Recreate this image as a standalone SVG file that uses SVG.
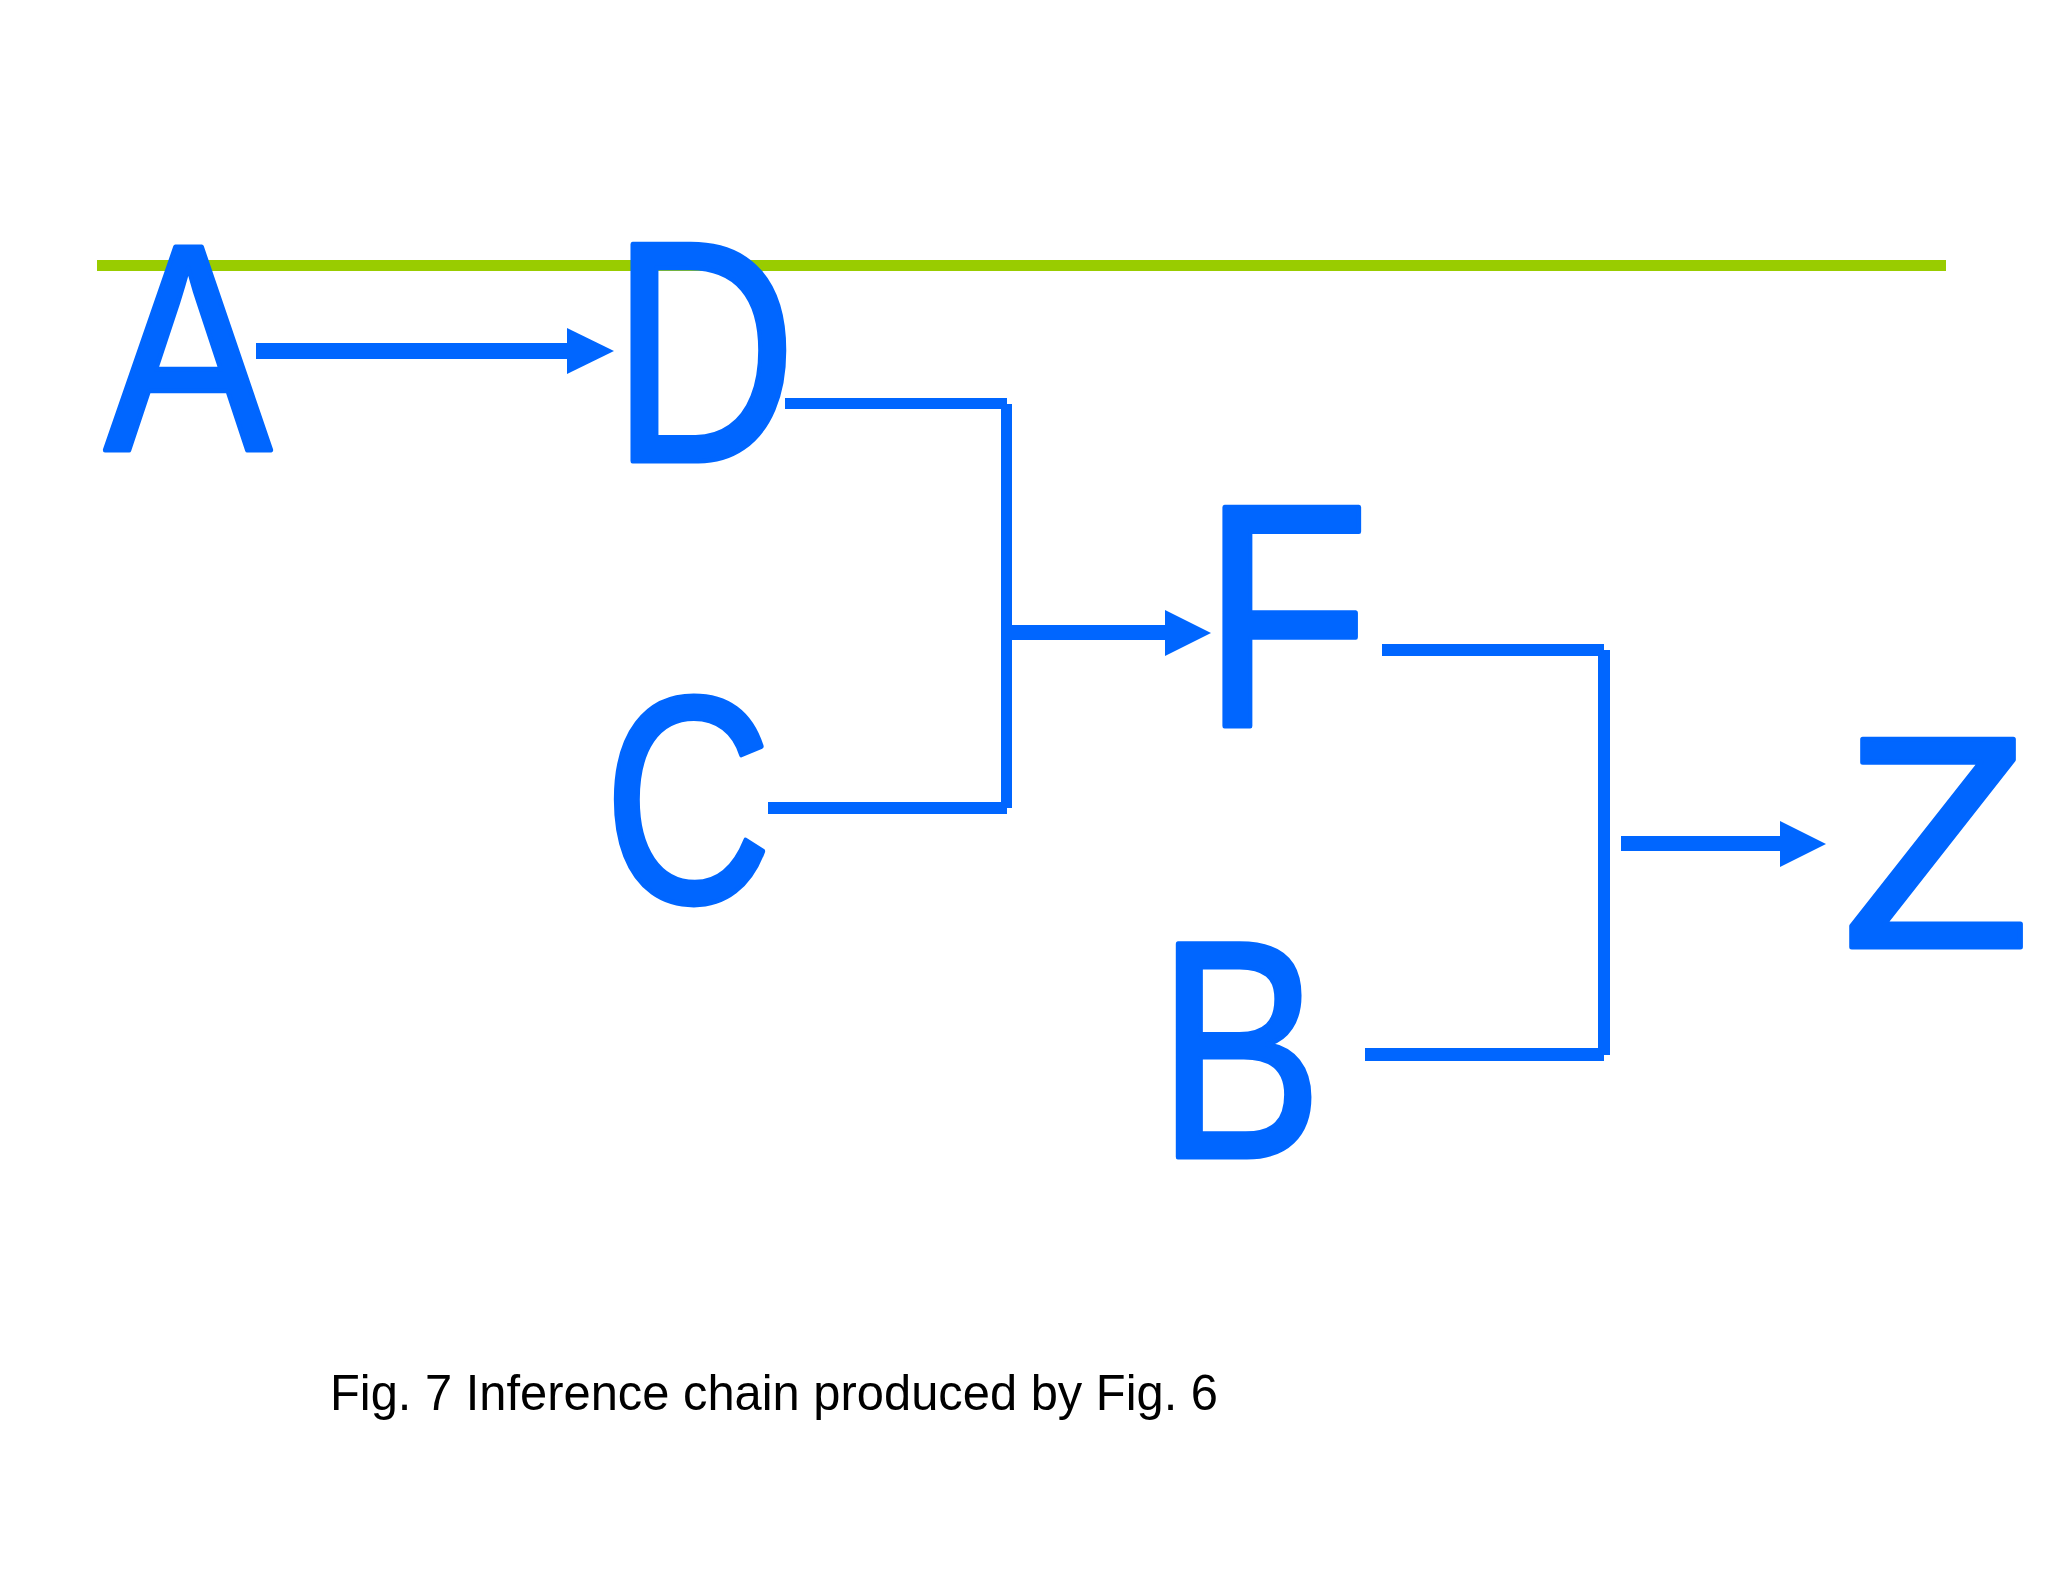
<svg xmlns="http://www.w3.org/2000/svg" width="2048" height="1582" viewBox="0 0 2048 1582">
<style>
.bg{fill:#ffffff}
.ln{fill:#0066ff}
.letter{font-family:"Liberation Sans","DejaVu Sans",sans-serif;font-size:295px;fill:#0066ff;stroke:#0066ff;stroke-width:5;stroke-linejoin:round;text-anchor:middle}
.cap{font-family:"Liberation Sans","DejaVu Sans",sans-serif;font-size:50px;fill:#000000}
</style>
<rect class="bg" x="0" y="0" width="2048" height="1582"/>
<g id="rule">
<rect x="97" y="260" width="1849" height="11" fill="#99cc00"/>
</g>
<g id="connectors">
<rect class="ln" x="256" y="343" width="312" height="16"/>
<polygon class="ln" points="567,328 614,351 567,374"/>
<rect class="ln" x="785" y="398" width="222" height="11"/>
<rect class="ln" x="1001" y="404" width="11" height="404"/>
<rect class="ln" x="768" y="802" width="239" height="12"/>
<rect class="ln" x="1010" y="625" width="156" height="15"/>
<polygon class="ln" points="1165,610 1211,633 1165,656"/>
<rect class="ln" x="1382" y="644" width="222" height="12"/>
<rect class="ln" x="1598" y="650" width="12" height="405"/>
<rect class="ln" x="1365" y="1048" width="239" height="13"/>
<rect class="ln" x="1621" y="836" width="160" height="15"/>
<polygon class="ln" points="1780,821 1826,844 1780,867"/>
</g>
<g id="node-A"><text class="letter" x="188" y="450" textLength="167" lengthAdjust="spacingAndGlyphs">A</text></g>
<g id="node-D"><text class="letter" x="704" y="461" style="font-size:315px" textLength="185" lengthAdjust="spacingAndGlyphs">D</text></g>
<g id="node-F"><text class="letter" x="1286" y="726" style="font-size:318px" textLength="168" lengthAdjust="spacingAndGlyphs">F</text></g>
<g id="node-C"><text class="letter" x="688" y="902" textLength="168" lengthAdjust="spacingAndGlyphs">C</text></g>
<g id="node-B"><text class="letter" x="1240" y="1157" style="font-size:310px" textLength="165" lengthAdjust="spacingAndGlyphs">B</text></g>
<g id="node-Z"><text class="letter" x="1936" y="947" style="font-size:302px" textLength="188" lengthAdjust="spacingAndGlyphs">Z</text></g>
<g id="caption"><text class="cap" x="330" y="1410" textLength="888" lengthAdjust="spacingAndGlyphs">Fig. 7 Inference chain produced by Fig. 6</text></g>
</svg>
